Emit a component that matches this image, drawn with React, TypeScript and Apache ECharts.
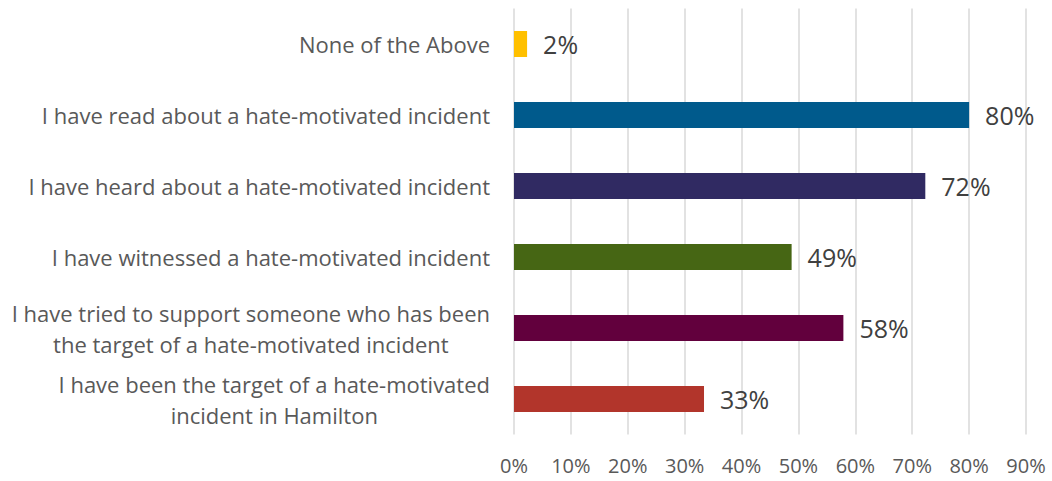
import React, { useEffect, useRef } from "react";
import * as echarts from "echarts";

const categories = [
  "None of the Above",
  "I have read about a hate-motivated incident",
  "I have heard about a hate-motivated incident",
  "I have witnessed a hate-motivated incident",
  "I have tried to support someone who has been\nthe target of a hate-motivated incident",
  "I have been the target of a hate-motivated\nincident in Hamilton",
];
const values = [2.3, 80, 72.3, 48.8, 57.9, 33.4];
const barColors = ["#FFC000", "#005A8C", "#302A62", "#466614", "#62003D", "#B2352B"];
const xTicks = [0, 10, 20, 30, 40, 50, 60, 70, 80, 90];

const FONT = "'Open Sans', sans-serif";

export default function App() {
  const ref = useRef<HTMLDivElement>(null);
  useEffect(() => {
    if (!ref.current) return;
    const chart = echarts.init(ref.current, undefined, { renderer: "svg" });
    chart.setOption({
      animation: false,
      grid: { left: 514, right: 26, top: 8.5, bottom: 46.5, containLabel: false },
      xAxis: {
        type: "value",
        min: xTicks[0],
        max: xTicks[xTicks.length - 1],
        interval: 10,
        axisLine: { show: false },
        axisTick: { show: false },
        splitLine: { show: true, lineStyle: { color: "#D9D9D9", width: 1.5 } },
        axisLabel: {
          formatter: (v: number) => `${v}%`,
          color: "#595959",
          fontSize: 20,
          fontFamily: FONT,
          margin: 21,
        },
      },
      yAxis: {
        type: "category",
        inverse: true,
        data: categories,
        axisLine: { show: false },
        axisTick: { show: false },
        axisLabel: {
          margin: 24,
          formatter: (v: string) => v.split("\n").map((l) => `{c|${l}}`).join("\n"),
          rich: {
            c: {
              align: "center",
              color: "#595959",
              fontSize: 22,
              fontFamily: FONT,
              lineHeight: 31,
            },
          },
        },
      },
      series: [
        {
          type: "bar",
          barWidth: 26,
          data: values.map((v, i) => ({ value: v, itemStyle: { color: barColors[i] } })),
          label: {
            show: true,
            position: "right",
            distance: 16,
            formatter: (p: any) => `${Math.round(p.value)}%`,
            color: "#404040",
            fontSize: 25,
            fontFamily: FONT,
          },
        },
      ],
    });
    return () => chart.dispose();
  }, []);
  return <div ref={ref} style={{ width: 1052, height: 481, position: "absolute", left: 0, top: 0 }} />;
}
